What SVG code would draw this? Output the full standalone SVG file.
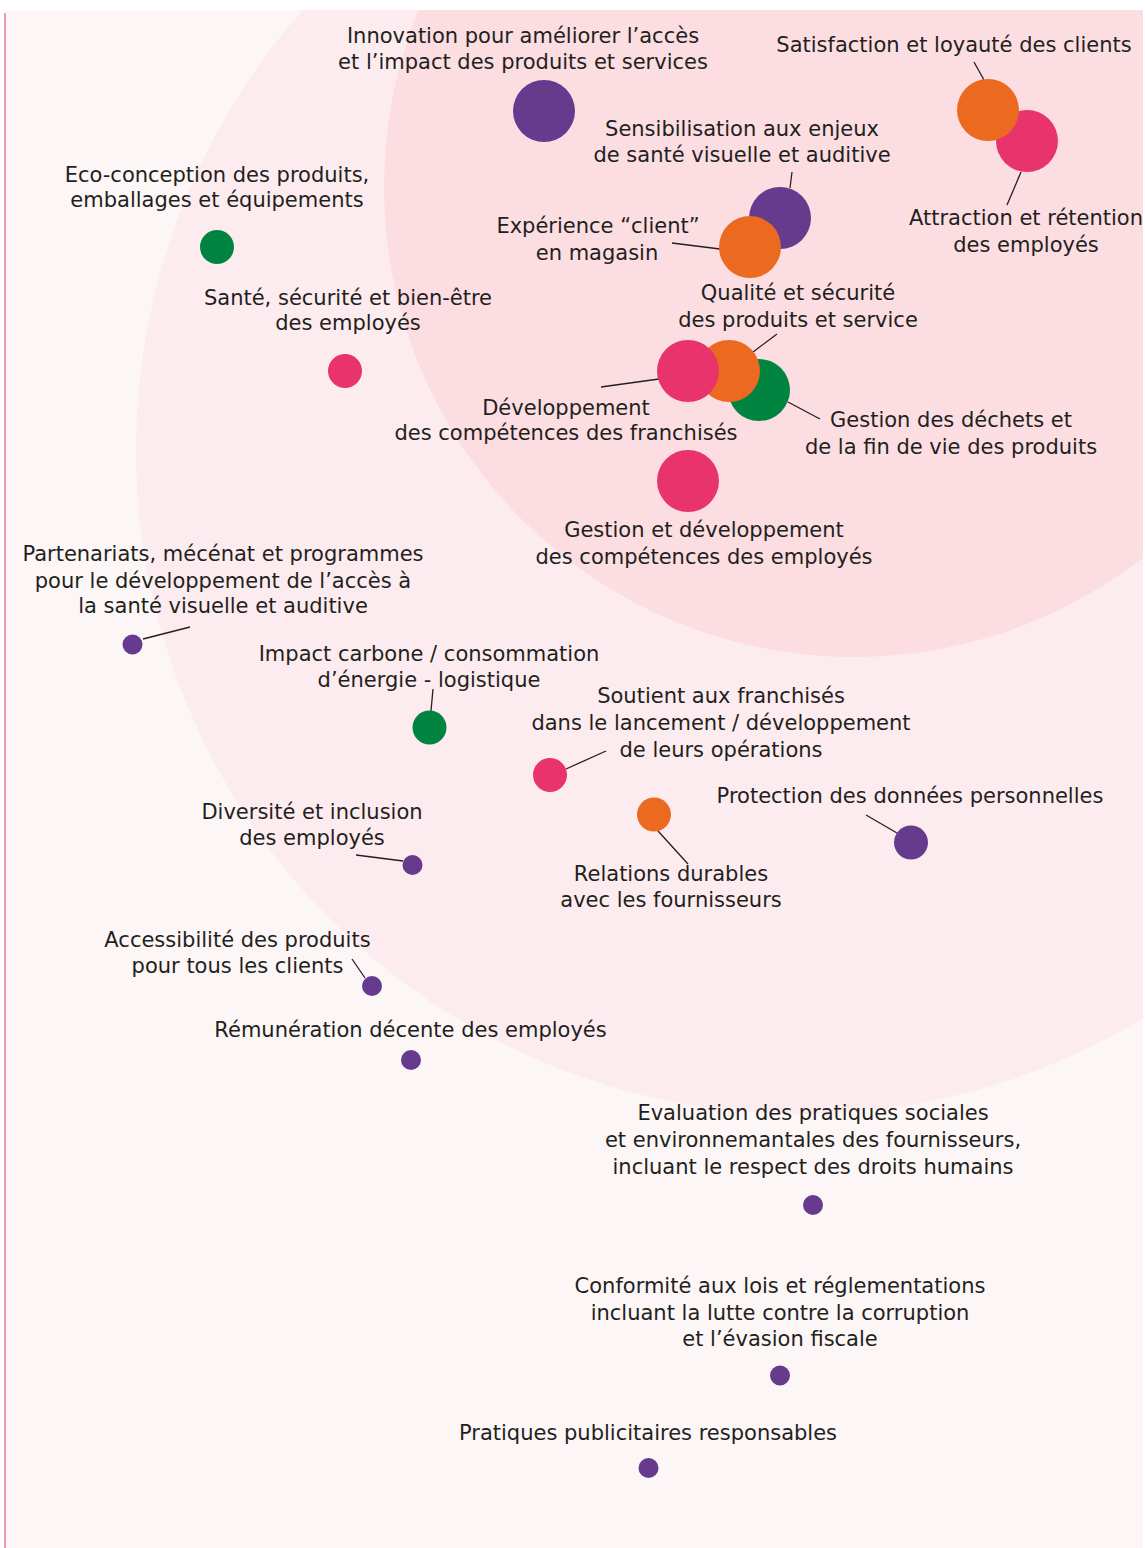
<svg xmlns="http://www.w3.org/2000/svg" width="1145" height="1548" viewBox="0 0 1145 1548">
<defs>
<clipPath id="bgclip"><rect x="5" y="10" width="1138" height="1538"/></clipPath>
</defs>
<style>
text{font-family:"DejaVu Sans","Liberation Sans",sans-serif;font-size:21px;fill:#231f20;text-anchor:middle}
.pu{fill:#663a8c}
.or{fill:#ec6a1f}
.pk{fill:#e8336c}
.gr{fill:#00843f}
.ln{stroke:#231f20;stroke-width:1.3;fill:none}
</style>
<rect x="0" y="0" width="1145" height="1548" fill="#ffffff"/>
<g id="background" clip-path="url(#bgclip)">
<rect x="5" y="10" width="1138" height="1538" fill="#fcf6f6"/>
<circle cx="800" cy="450" r="664" fill="#fdecef"/>
<circle cx="854" cy="187" r="470" fill="#fbdde2"/>
</g>
<line x1="5" y1="13" x2="5" y2="1548" stroke="#e5789c" stroke-width="1.5"/>
<g id="connectors" class="ln">
<line x1="974" y1="62" x2="984" y2="80"/>
<line x1="1021" y1="172" x2="1007" y2="205"/>
<line x1="792" y1="172" x2="790" y2="188"/>
<line x1="672" y1="243" x2="720" y2="249"/>
<line x1="777" y1="334" x2="753" y2="352"/>
<line x1="601" y1="387" x2="659" y2="379"/>
<line x1="788" y1="402" x2="820" y2="419"/>
<line x1="143" y1="639" x2="190" y2="627"/>
<line x1="433" y1="689" x2="431" y2="711"/>
<line x1="566" y1="769" x2="606" y2="751"/>
<line x1="658" y1="831" x2="688" y2="864"/>
<line x1="866" y1="815" x2="897" y2="833"/>
<line x1="356" y1="855" x2="403" y2="861"/>
<line x1="352" y1="959" x2="365" y2="978"/>
</g>
<g id="n-innovation"><circle class="pu" cx="544" cy="111" r="31"/><text x="523" y="43">Innovation pour améliorer l’accès</text><text x="523" y="69">et l’impact des produits et services</text></g>
<g id="n-attraction"><circle class="pk" cx="1027" cy="141" r="31"/><text x="1026" y="225">Attraction et rétention</text><text x="1026" y="252">des employés</text></g>
<g id="n-satisfaction"><circle class="or" cx="988" cy="110" r="31"/><text x="954" y="52">Satisfaction et loyauté des clients</text></g>
<g id="n-sensibilisation"><circle class="pu" cx="780" cy="218" r="31"/><text x="742" y="136">Sensibilisation aux enjeux</text><text x="742" y="162">de santé visuelle et auditive</text></g>
<g id="n-experience"><circle class="or" cx="750" cy="247" r="31"/><text x="598" y="233">Expérience “client”</text><text x="597" y="260">en magasin</text></g>
<g id="n-ecoconception"><circle class="gr" cx="217" cy="247" r="17"/><text x="217" y="182">Eco-conception des produits,</text><text x="217" y="207">emballages et équipements</text></g>
<g id="n-sante"><circle class="pk" cx="345" cy="371" r="17"/><text x="348" y="305">Santé, sécurité et bien-être</text><text x="348" y="330">des employés</text></g>
<g id="n-dechets"><circle class="gr" cx="759" cy="390" r="31"/><text x="951" y="427">Gestion des déchets et</text><text x="951" y="454">de la fin de vie des produits</text></g>
<g id="n-qualite"><circle class="or" cx="729" cy="371" r="31"/><text x="798" y="300">Qualité et sécurité</text><text x="798" y="327">des produits et service</text></g>
<g id="n-franchises"><circle class="pk" cx="688" cy="371" r="31"/><text x="566" y="415">Développement</text><text x="566" y="440">des compétences des franchisés</text></g>
<g id="n-competences"><circle class="pk" cx="688" cy="481" r="31"/><text x="704" y="537">Gestion et développement</text><text x="704" y="564">des compétences des employés</text></g>
<g id="n-partenariats"><circle class="pu" cx="132.5" cy="644.5" r="10"/><text x="223" y="561">Partenariats, mécénat et programmes</text><text x="223" y="588">pour le développement de l’accès à</text><text x="223" y="613">la santé visuelle et auditive</text></g>
<g id="n-carbone"><circle class="gr" cx="429.5" cy="727.5" r="17"/><text x="429" y="661">Impact carbone / consommation</text><text x="429" y="687">d’énergie - logistique</text></g>
<g id="n-soutien"><circle class="pk" cx="550" cy="775" r="17"/><text x="721" y="703">Soutient aux franchisés</text><text x="721" y="730">dans le lancement / développement</text><text x="721" y="757">de leurs opérations</text></g>
<g id="n-relations"><circle class="or" cx="654" cy="814.5" r="17"/><text x="671" y="881">Relations durables</text><text x="671" y="907">avec les fournisseurs</text></g>
<g id="n-protection"><circle class="pu" cx="911" cy="842.5" r="17"/><text x="910" y="803">Protection des données personnelles</text></g>
<g id="n-diversite"><circle class="pu" cx="412.5" cy="865" r="10"/><text x="312" y="819">Diversité et inclusion</text><text x="312" y="845">des employés</text></g>
<g id="n-accessibilite"><circle class="pu" cx="372" cy="986" r="10"/><text x="237.5" y="947">Accessibilité des produits</text><text x="237.5" y="973">pour tous les clients</text></g>
<g id="n-remuneration"><circle class="pu" cx="411" cy="1060" r="10"/><text x="410.5" y="1037">Rémunération décente des employés</text></g>
<g id="n-evaluation"><circle class="pu" cx="813" cy="1205" r="10"/><text x="813" y="1120">Evaluation des pratiques sociales</text><text x="813" y="1147">et environnemantales des fournisseurs,</text><text x="813" y="1174">incluant le respect des droits humains</text></g>
<g id="n-conformite"><circle class="pu" cx="780" cy="1375.5" r="10"/><text x="780" y="1293">Conformité aux lois et réglementations</text><text x="780" y="1320">incluant la lutte contre la corruption</text><text x="780" y="1346">et l’évasion fiscale</text></g>
<g id="n-publicite"><circle class="pu" cx="648.5" cy="1468" r="10"/><text x="648" y="1440">Pratiques publicitaires responsables</text></g>
</svg>
